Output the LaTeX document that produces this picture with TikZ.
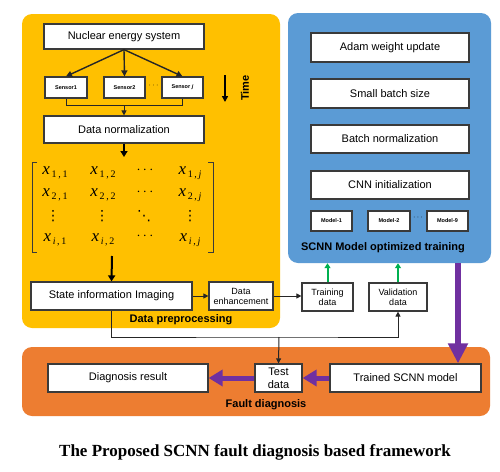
\documentclass[tikz,border=0pt]{standalone}
\usepackage{fontspec}
\setmainfont{Liberation Sans}
\newfontfamily\tnr{Liberation Serif}
\newfontfamily\djv{DejaVu Sans}
\usetikzlibrary{arrows.meta}
\definecolor{cyel}{HTML}{FFC000}
\definecolor{cblu}{HTML}{5B9BD5}
\definecolor{cora}{HTML}{ED7D31}
\definecolor{cpur}{HTML}{7030A0}
\definecolor{cgrn}{HTML}{00B050}
\definecolor{cbord}{HTML}{3A3A3A}
\newcommand\mx[2]{{\tnr\fontsize{17}{17}\selectfont\textit{x}\raisebox{-0.45ex}{\fontsize{10}{10}\selectfont\,#1\,,\,#2}}}
\newcommand\dotsz[1]{{\fontsize{14}{14}\selectfont$#1$}}
\newcommand\myvdots{{\djv\fontsize{14}{14}\selectfont ⋮}}
\newcommand\myddots{{\djv\fontsize{14}{14}\selectfont ⋱}}
\begin{document}
\begin{tikzpicture}[x=1pt,y=-1pt,
  panel/.style={rounded corners=10pt, draw=none, inner sep=0pt},
  box/.style={draw=cbord, line width=1.2pt, fill=white, inner sep=0pt, align=center, font=\fontsize{11}{13}\selectfont},
  sbox/.style={box, font=\fontsize{9}{10}\selectfont},
  tbox/.style={box, font=\bfseries\fontsize{5.5}{6}\selectfont},
  ent/.style={inner sep=0pt},
  arr/.style={draw=black!85, line width=1pt, -{Triangle[length=5pt,width=5pt]}},
  sarr/.style={draw=black!85, line width=1.4pt, -{Triangle[length=6pt,width=6pt]}},
  thickarr/.style={draw=black, line width=2pt, -{Triangle[length=6pt,width=7pt]}},
  plain/.style={draw=black!85, line width=1pt},
  grn/.style={draw=cgrn, line width=2pt, -{Triangle[length=5pt,width=6pt]}},
  purp/.style={draw=cpur, line width=5pt, -{Triangle[length=14pt,width=16pt]}},
  bigpurp/.style={draw=cpur, line width=6pt, -{Triangle[length=20pt,width=19pt]}},
  lab/.style={font=\bfseries\fontsize{11}{13}\selectfont}
]
\useasboundingbox (0,0) rectangle (500,471);
\fill[white] (0,0) rectangle (500,471);

% panels
\node[panel, fill=cyel, minimum width=258pt, minimum height=314pt] (yel) at (151,171) {};
\node[panel, fill=cblu, minimum width=203pt, minimum height=250pt] (blue) at (389.5,138) {};
\node[panel, fill=cora, minimum width=468pt, minimum height=69pt] (ora) at (256,381.5) {};

% boxes: data preprocessing
\node[box, minimum width=160pt, minimum height=25pt] (nes) at (124,36.5) {Nuclear energy system};
\node[tbox, minimum width=42pt, minimum height=21pt] (s1) at (66,87.5) {Sensor1};
\node[tbox, minimum width=41pt, minimum height=21pt] (s2) at (124.5,87.5) {Sensor2};
\node[tbox, minimum width=41pt, minimum height=21pt] (sj) at (182.5,87.5) {Sensor \textit{j}};
\node (sdots) at (153.5,86) {\fontsize{8}{8}\selectfont$\cdots$};
\node[box, minimum width=160pt, minimum height=27pt] (dn) at (124,129.5) {Data normalization};
\node[box, minimum width=161pt, minimum height=28pt] (sii) at (111.5,296) {State information Imaging};
\node[sbox, minimum width=64pt, minimum height=28pt] (de) at (241,296) {Data\\enhancement};
\node[lab] (lpre) at (181,320) {Data preprocessing};

% time
\coordinate (tA) at (225,75);
\coordinate (tB) at (225,102);
\draw[line width=1.5pt, -{Triangle[length=6pt,width=6pt]}] (tA) -- (tB);
\node[lab, rotate=90] (time) at (245,88) {Time};

% matrix
\draw[draw=cbord, line width=0.9pt] (37,162) -- (32,162) -- (32,252) -- (37,252);
\draw[draw=cbord, line width=0.9pt] (208,162) -- (213,162) -- (213,252) -- (208,252);
\node[ent] (e11) at (55,173) {\mx{1}{1}};
\node[ent] (e12) at (103,173) {\mx{1}{2}};
\node[ent] (e13) at (145,170) {\dotsz{\cdots}};
\node[ent] (e14) at (190,173) {\mx{1}{\textit{j}}};
\node[ent] (e21) at (55,195) {\mx{2}{1}};
\node[ent] (e22) at (103,195) {\mx{2}{2}};
\node[ent] (e23) at (145,192) {\dotsz{\cdots}};
\node[ent] (e24) at (190,195) {\mx{2}{\textit{j}}};
\node[ent] (e31) at (53,216) {\myvdots};
\node[ent] (e32) at (102,216) {\myvdots};
\node[ent] (e33) at (144,216) {\myddots};
\node[ent] (e34) at (190,216) {\myvdots};
\node[ent] (e41) at (55,240) {\mx{\textit{i}}{1}};
\node[ent] (e42) at (103,240) {\mx{\textit{i}}{2}};
\node[ent] (e43) at (145,236) {\dotsz{\cdots}};
\node[ent] (e44) at (190,240) {\mx{\textit{i}}{\textit{j}}};

% SCNN training
\node[box, minimum width=158pt, minimum height=29pt] (adam) at (390,47.5) {Adam weight update};
\node[box, minimum width=158pt, minimum height=29pt] (sbs) at (390,93.5) {Small batch size};
\node[box, minimum width=158pt, minimum height=28pt] (bn) at (390,139) {Batch normalization};
\node[box, minimum width=158pt, minimum height=28pt] (cnn) at (390,185) {CNN initialization};
\node[tbox, minimum width=41pt, minimum height=20pt] (m1) at (331.5,221) {Model-1};
\node[tbox, minimum width=42pt, minimum height=20pt] (m2) at (389,221) {Model-2};
\node[tbox, minimum width=41pt, minimum height=20pt] (m9) at (447.5,221) {Model-9};
\node (mdots) at (418,218) {\fontsize{8}{8}\selectfont$\cdots$};
\node[lab] (ltrain) at (383,248) {SCNN Model optimized training};

% data boxes
\node[sbox, minimum width=51pt, minimum height=28pt] (td) at (327.5,297) {Training\\data};
\node[sbox, minimum width=58pt, minimum height=28pt] (vd) at (398,297) {Validation\\data};

% fault diagnosis
\node[box, minimum width=47pt, minimum height=28pt] (test) at (278.5,378) {Test\\data};
\node[box, minimum width=151pt, minimum height=28pt] (trained) at (405.5,378) {Trained SCNN model};
\node[box, minimum width=160pt, minimum height=28pt] (dr) at (128,378) {Diagnosis result};
\node[lab] (lfault) at (266,405) {Fault diagnosis};

% connectors
\draw[sarr] (nes.south) -- (s1.north);
\draw[sarr] (nes.south) -- (s2.north);
\draw[sarr] (nes.south) -- (sj.north);
\coordinate (bar) at (124,105);
\draw[plain] (s1.south) -- (s1.south |- bar) -- (sj.south |- bar) -- (sj.south);
\draw[arr] (bar) -- (dn.north);
\coordinate (mtop) at (124,157);
\draw[thickarr] (dn.south) -- (mtop);
\coordinate (mbot) at (112,256);
\draw[thickarr] (mbot) -- (sii.north);
\draw[arr] (sii.east) -- (de.west);
\draw[arr] (de.east) -- (td.west |- de.east);
\coordinate (jn) at (279,337);
\draw[arr] (sii.south) |- (jn) -| (vd.south);
\draw[arr] (jn) -- (test.north);
\draw[grn] (td.north) -- (td.north |- blue.south);
\draw[grn] (vd.north) -- (vd.north |- blue.south);
\coordinate (pv) at (458,0);
\draw[bigpurp] (blue.south -| pv) -- (trained.north -| pv);
\draw[purp] (trained.west) -- (test.east);
\draw[purp] (test.west) -- (dr.east);

% title
\node[font=\tnr\bfseries\fontsize{17}{20}\selectfont] (title) at (255,452) {The Proposed SCNN fault diagnosis based framework};
\end{tikzpicture}
\end{document}
